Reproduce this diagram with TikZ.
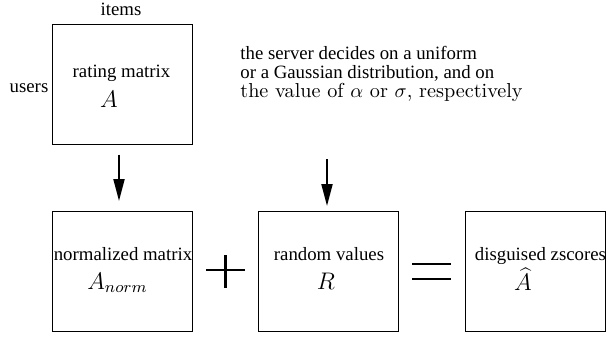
\documentclass[tikz,border=0pt]{standalone}
\usepackage{fontspec}
\setmainfont{Liberation Serif}
\usetikzlibrary{arrows.meta, positioning, calc}

\begin{document}
\begin{tikzpicture}[x=0.5pt, y=-0.5pt, font=\fontsize{9.4}{11}\selectfont,
      box/.style={draw, line width=0.5pt, minimum width=70pt, minimum height=60pt, inner sep=0pt},
      lbl/.style={inner sep=0pt, anchor=base},
      sym/.style={lbl, font=\fontsize{11.5}{13}\selectfont},
      arr/.style={line width=1pt, -{Triangle[length=11pt, width=5.5pt]}},
      op/.style={line width=1.3pt}]
    \useasboundingbox (0,0) rectangle (608,337);
    % the four matrices
    \node[box] (rating) at (122,84) {};
    \node[box] (norm) at (122,271.5) {};
    \node[box] (rand) at (328.5,271.5) {};
    \node[box] (disg) at (535,271.5) {};
    \node[lbl] (items) at (121,15) {items};
    \node[lbl] (users) at (29,92) {users};
    \node[lbl] at (121.5,77) {rating matrix};
    \node[sym] at (109,107) {$A$};
    \node[lbl] at (123,260) {normalized matrix};
    \node[sym] at (117.5,289) {$A_{norm}$};
    \node[lbl] at (329,260) {random values};
    \node[sym] at (326,289) {$R$};
    \node[lbl] at (540.5,260) {disguised zscores};
    \node[sym] at (523,290) {$\widehat{A}$};
    % server choice
    \node[inner sep=0pt, anchor=base west, align=left] (server) at (240,97)
      {the server decides on a uniform\\[-1.4pt]
       or a Gaussian distribution, and on\\[-1.8pt]
       {\fontfamily{lmr}\fontsize{10.1}{11}\selectfont the value of $\alpha$ or $\sigma$, respectively}};
    \coordinate (choice) at (327,159);
    \draw[arr] ([xshift=-1.5pt, yshift=-5pt]rating.south) -- ([xshift=-1.5pt, yshift=5pt]norm.north);
    \draw[arr] (choice) -- ([xshift=-0.75pt, yshift=2.5pt]rand.north);
    % plus and equals
    \draw[op] (206,270) -- (245,270) (225.5,255) -- (225.5,288);
    \draw[op] (412,264) -- (451,264) (412,279) -- (451,279);
  \end{tikzpicture}
\end{document}
